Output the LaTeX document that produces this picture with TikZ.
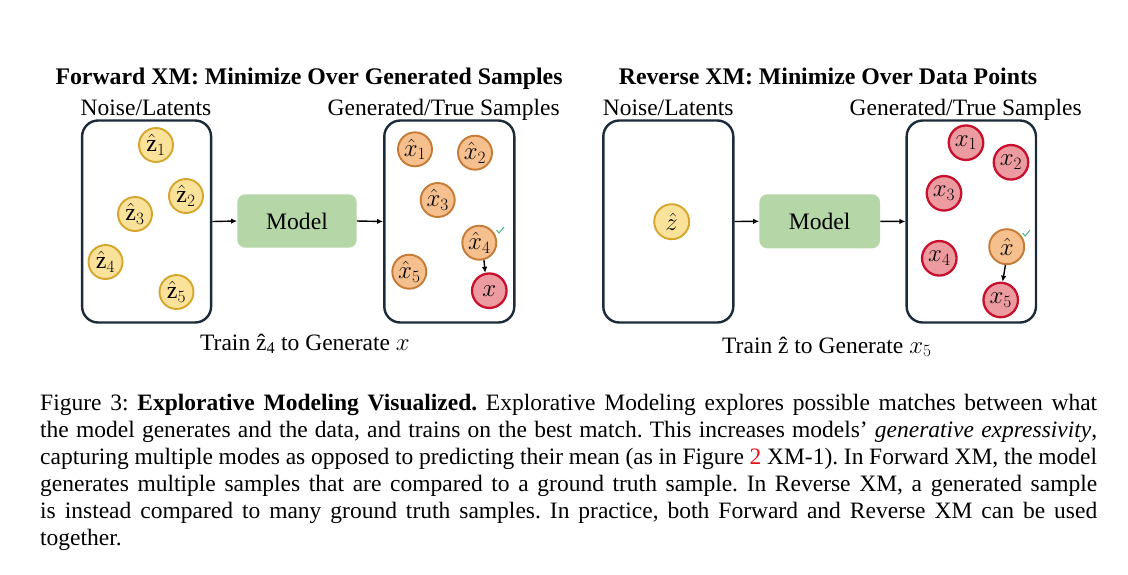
\documentclass[tikz,border=0pt]{standalone}
\usepackage{fontspec}
\setmainfont{Liberation Serif}
\usetikzlibrary{arrows.meta}
\definecolor{boxline}{HTML}{1C2B3A}
\definecolor{yfill}{HTML}{FBE29B}
\definecolor{yline}{HTML}{D6A52B}
\definecolor{ofill}{HTML}{F6C08E}
\definecolor{oline}{HTML}{C57A36}
\definecolor{rfill}{HTML}{EC9CA0}
\definecolor{rline}{HTML}{C8102E}
\definecolor{mfill}{HTML}{B5D6A7}
\definecolor{chk}{HTML}{3DB87A}
\definecolor{capred}{HTML}{E8141B}
\begin{document}
\frenchspacing
\begin{tikzpicture}[x=1pt,y=-1pt,
  frame/.style={draw=boxline, line width=2.4pt, rounded corners=16pt, minimum height=202pt, inner sep=0pt},
  modelbox/.style={fill=mfill, rounded corners=8pt, minimum width=120pt, minimum height=54pt, inner sep=0pt, font=\fontsize{23.6}{28}\selectfont},
  circ/.style={circle, line width=1.9pt, minimum size=34pt, inner sep=0pt, font=\fontsize{24}{28}\selectfont},
  ycirc/.style={circ, draw=yline, fill=yfill},
  ocirc/.style={circ, draw=oline, fill=ofill},
  rcirc/.style={circ, draw=rline, fill=rfill, line width=2.3pt, minimum size=34.5pt},
  lab/.style={font=\fontsize{23.5}{28}\selectfont, inner sep=0pt},
  ttl/.style={font=\fontsize{23.8}{28}\selectfont\bfseries, inner sep=0pt, anchor=base},
  captext/.style={font=\fontsize{23.5}{27}\selectfont, inner sep=0pt, anchor=base west},
  arr/.style={-{Latex[length=6pt,width=5.5pt]}, line width=1.4pt},
  tick/.style={draw=chk, line width=0.9pt}
]
\useasboundingbox (0,0) rectangle (1128,574);

% ---------- Forward XM ----------
\node[ttl] (tF) at (309,84) {Forward XM: Minimize Over Generated Samples};
\node[lab, anchor=base west] (nlF) at (80.5,115) {Noise/Latents};
\node[lab, anchor=base east] (gtF) at (560,115) {Generated/True Samples};

\node[frame, minimum width=129pt] (fL) at (146.6,221.5) {};
\node[modelbox, minimum width=119.4pt, minimum height=53.4pt] (mF) at (297,221) {Model};
\node[frame, minimum width=130pt] (fR) at (449.3,221.5) {};
\draw[arr] (fL.east) -- (mF.west);
\draw[arr] (mF.east) -- (fR.west);

\node[ycirc] (z1) at (156,145) {$\hat{\mathrm{z}}_1$};
\node[ycirc] (z2) at (186,196) {$\hat{\mathrm{z}}_2$};
\node[ycirc] (z3) at (135,214) {$\hat{\mathrm{z}}_3$};
\node[ycirc] (z4) at (105.5,262) {$\hat{\mathrm{z}}_4$};
\node[ycirc] (z5) at (176.5,292) {$\hat{\mathrm{z}}_5$};

\node[ocirc] (xh1) at (415,149.3) {$\hat{x}_1$};
\node[ocirc] (xh2) at (475,152.7) {$\hat{x}_2$};
\node[ocirc] (xh3) at (437.7,200) {$\hat{x}_3$};
\node[ocirc] (xh4) at (479.3,242.7) {$\hat{x}_4$};
\node[ocirc] (xh5) at (409.3,271.7) {$\hat{x}_5$};
\node[rcirc] (xx) at (489.3,290.7) {$x$};
\draw[arr] (xh4.-75) -- (xx.103);
\coordinate (c1) at (500,230);
\draw[tick] (c1) ++(-3.5,0) -- ++(2.5,3) -- ++(5,-6);

\node[lab, anchor=base west] (trF) at (200,350) {Train \^{z}\textsubscript{4} to Generate $x$};

% ---------- Reverse XM ----------
\node[ttl] (tR) at (828,84) {Reverse XM: Minimize Over Data Points};
\node[lab, anchor=base west] (nlR) at (602.7,115) {Noise/Latents};
\node[lab, anchor=base east] (gtR) at (1082,115) {Generated/True Samples};

\node[frame, minimum width=130pt] (rL) at (668.3,221.5) {};
\node[modelbox, minimum width=120.7pt] (mR) at (819.7,221.3) {Model};
\node[frame, minimum width=129.3pt] (rR) at (971.3,221.5) {};
\draw[arr] (rL.east) -- (mR.west);
\draw[arr] (mR.east) -- (rR.west);

\node[ycirc, minimum size=35pt] (zh) at (671.7,221.7) {$\hat{z}$};

\node[rcirc] (x1) at (966,142.7) {$x_1$};
\node[rcirc] (x2) at (1011,162.3) {$x_2$};
\node[rcirc] (x3) at (944,193.3) {$x_3$};
\node[rcirc] (x4) at (939.3,258.3) {$x_4$};
\node[ocirc, minimum size=35pt] (xh) at (1006.7,246.7) {$\hat{x}$};
\node[rcirc] (x5) at (1000.7,300) {$x_5$};
\draw[arr] (xh.-94) -- (x5.84);
\coordinate (c2) at (1026,233);
\draw[tick] (c2) ++(-3.5,0) -- ++(2.5,3) -- ++(5,-6);

\node[lab, anchor=base west] (trR) at (722,353) {Train \^{z} to Generate $x_5$};

% ---------- Caption ----------
\node[captext] (cap1) at (40,410) {\makebox[1057pt][s]{Figure 3: \textbf{Explorative Modeling Visualized.} Explorative Modeling explores possible matches between what}};
\node[captext] (cap2) at (40,437) {\makebox[1057pt][s]{the model generates and the data, and trains on the best match. This increases models’ \textit{generative expressivity},}};
\node[captext] (cap3) at (40,464) {\makebox[1057pt][s]{capturing multiple modes as opposed to predicting their mean (as in Figure {\color{capred}2} XM-1). In Forward XM, the model}};
\node[captext] (cap4) at (40,491) {\makebox[1057pt][s]{generates multiple samples that are compared to a ground truth sample. In Reverse XM, a generated sample}};
\node[captext] (cap5) at (40,518) {\makebox[1057pt][s]{is instead compared to many ground truth samples. In practice, both Forward and Reverse XM can be used}};
\node[captext] (cap6) at (40,545) {together.};
\end{tikzpicture}
\end{document}
